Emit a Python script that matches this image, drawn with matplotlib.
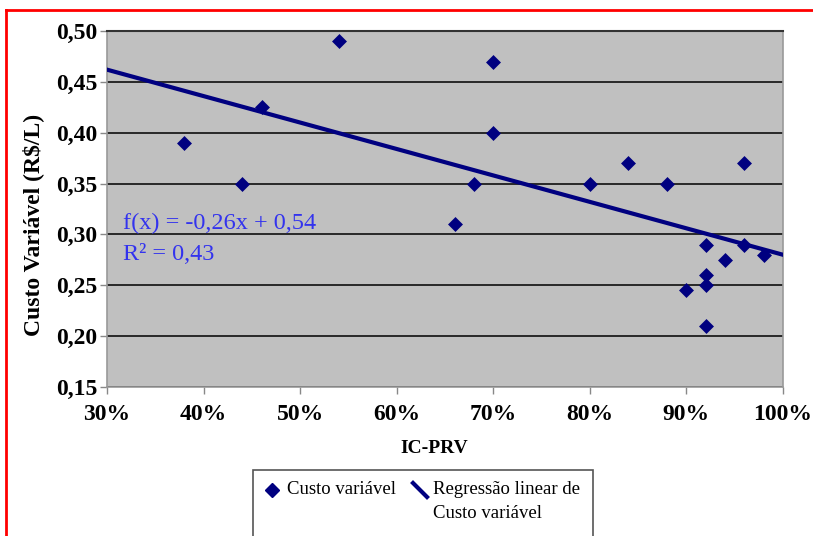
import numpy as np
import matplotlib
matplotlib.use("Agg")
import matplotlib.pyplot as plt
from matplotlib.lines import Line2D
from matplotlib.patches import Rectangle
from matplotlib.ticker import FuncFormatter

# Data (IC-PRV as fraction, variable cost R$/L)
ic_prv = [0.38, 0.44, 0.46, 0.54, 0.66, 0.68, 0.70, 0.70, 0.80, 0.84, 0.88,
          0.90, 0.92, 0.92, 0.92, 0.92, 0.94, 0.96, 0.96, 0.98]
custo = [0.39, 0.35, 0.425, 0.49, 0.31, 0.35, 0.47, 0.40, 0.35, 0.37, 0.35,
         0.245, 0.29, 0.26, 0.25, 0.21, 0.275, 0.37, 0.29, 0.28]
x_ticks = [0.3, 0.4, 0.5, 0.6, 0.7, 0.8, 0.9, 1.0]
y_ticks = [0.15, 0.20, 0.25, 0.30, 0.35, 0.40, 0.45, 0.50]
slope, intercept = -0.26, 0.54
eq_text = "f(x) = -0,26x + 0,54"
r2_text = "R² = 0,43"
legend_labels = ["Custo variável", "Regressão linear de", "Custo variável"]

navy = "#000080"
serif = ["Liberation Serif", "DejaVu Serif"]
plt.rcParams["font.family"] = serif

fig = plt.figure(figsize=(8.13, 5.36), dpi=100)
W, H = 813, 536
def fx(px): return px / W
def fy(py): return 1 - py / H

ax = fig.add_axes([fx(107), fy(387), (783 - 107) / W, (387 - 31) / H])
ax.set_facecolor("#c0c0c0")

ax.set_xlim(0.3, 1.0)
ax.set_ylim(0.15, 0.50)
ax.set_xticks(x_ticks)
ax.set_yticks(y_ticks)
ax.xaxis.set_major_formatter(FuncFormatter(lambda v, p: f"{v*100:.0f}%"))
ax.yaxis.set_major_formatter(FuncFormatter(lambda v, p: f"{v:.2f}".replace(".", ",")))
for lab in ax.get_xticklabels() + ax.get_yticklabels():
    lab.set_fontweight("bold")
    lab.set_fontsize(17)
ax.tick_params(axis="both", direction="out", length=5, color="#888888", width=1)
ax.tick_params(axis="x", pad=7)
ax.tick_params(axis="y", pad=2)

ax.grid(axis="y", color="black", linewidth=1.1)
ax.set_axisbelow(True)
for s in ["left", "bottom", "right"]:
    ax.spines[s].set_color("#999999")
    ax.spines[s].set_linewidth(1.2)
ax.spines["top"].set_color("#333333")
ax.spines["top"].set_linewidth(1.5)

xs = np.array([x_ticks[0], x_ticks[-1]])
ax.plot(xs, slope * xs + intercept, color=navy, linewidth=3.0, zorder=3)
ax.scatter(ic_prv, custo, marker="D", s=58, color=navy, zorder=4, linewidths=0)

ax.text(0.3166, 0.3053, eq_text, color="#3333ee", fontsize=17.5, va="baseline", ha="left")
ax.text(0.3166, 0.2749, r2_text, color="#3333ee", fontsize=17.5, va="baseline", ha="left")

ax.set_xlabel("IC-PRV", fontsize=14, fontweight="bold")
ax.xaxis.set_label_coords(0.484, -0.149)
ax.set_ylabel("Custo Variável (R$/L)", fontsize=17, fontweight="bold")
ax.yaxis.set_label_coords(-0.093, 0.455)

# legend (drawn manually, Excel style)
fig.patches.append(Rectangle((fx(253), fy(545)), (593 - 253) / W, (545 - 470) / H,
                             transform=fig.transFigure, facecolor="white",
                             edgecolor="#555555", linewidth=1.2))
fig.add_artist(Line2D([fx(272)], [fy(490)], marker="D", markersize=7, color=navy,
                      linestyle="none", transform=fig.transFigure))
fig.text(fx(287), fy(490), legend_labels[0], fontsize=13.5, va="center", ha="left")
fig.add_artist(Line2D([fx(413), fx(427)], [fy(483), fy(497)], color=navy, linewidth=3,
                      transform=fig.transFigure))
fig.text(fx(433), fy(490), legend_labels[1], fontsize=13.5, va="center", ha="left")
fig.text(fx(433), fy(514), legend_labels[2], fontsize=13.5, va="center", ha="left")

# red frame
fig.add_artist(Line2D([fx(6), fx(6)], [0, fy(10)], color="red", linewidth=2,
                      transform=fig.transFigure))
fig.add_artist(Line2D([fx(6), 1], [fy(10), fy(10)], color="red", linewidth=2,
                      transform=fig.transFigure))

fig.savefig("out.png", dpi=100)
